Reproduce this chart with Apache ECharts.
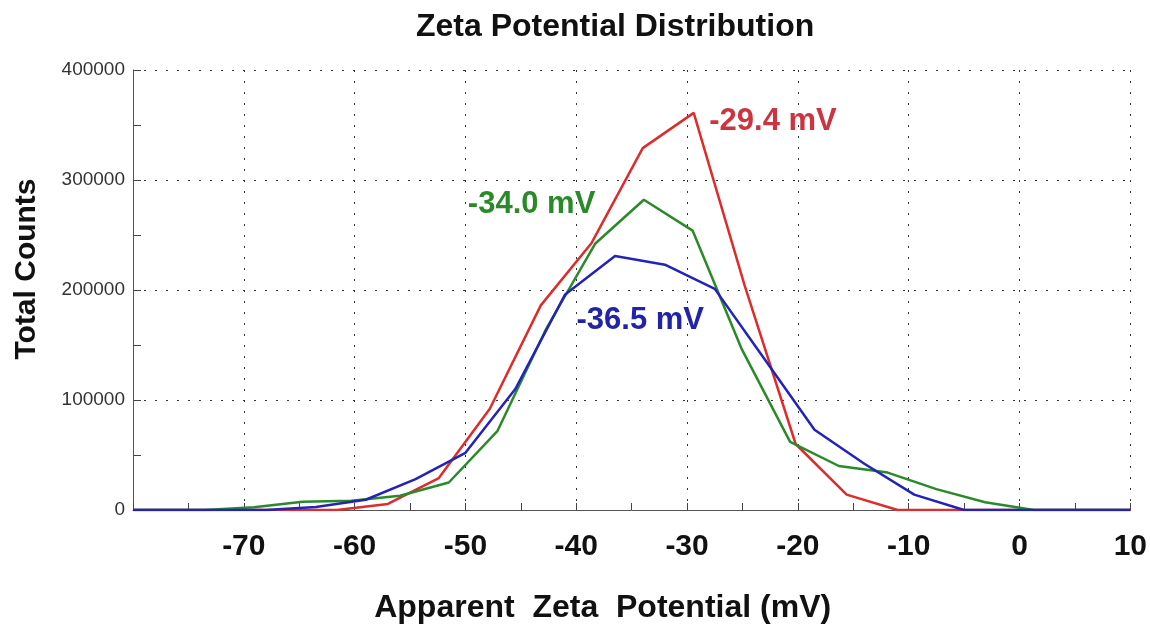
<!DOCTYPE html>
<html>
<head>
<meta charset="utf-8">
<script src="https://cdn.jsdelivr.net/npm/echarts@6/dist/echarts.min.js"></script>
<style>
html,body{margin:0;padding:0;background:#fff;}
#chart{width:1150px;height:629px;}
</style>
</head>
<body>
<div id="chart"></div>
<script>
// Data
var redX   = [-80, -61.6, -57.0, -52.4, -47.8, -43.2, -38.6, -34.0, -29.4, -24.8, -20.2, -15.6, -11.0, 10];
var redY   = [0, 0, 5500, 29000, 92000, 186000, 243000, 329000, 361000, 204000, 60000, 14000, 0, 0];
var greenX = [-80, -73.5, -69.1, -64.7, -60.3, -55.9, -51.5, -47.1, -42.7, -38.3, -33.9, -29.5, -25.1, -20.7, -16.3, -11.9, -7.5, -3.1, 1.3, 10];
var greenY = [0, 0, 2500, 7500, 8500, 13000, 25000, 72000, 165000, 242000, 282000, 254000, 147000, 62000, 40000, 34000, 19000, 7000, 0, 0];
var blueX  = [-80, -68.0, -63.5, -59.0, -54.5, -50.0, -45.5, -41.0, -36.5, -32.0, -27.5, -23.0, -18.5, -14.0, -9.5, -5.0, 10];
var blueY  = [0, 0, 2700, 9300, 28000, 52000, 110000, 196000, 231000, 223000, 201000, 137000, 73000, 42000, 14000, 0, 0];
var peakLabels = ['-29.4 mV', '-34.0 mV', '-36.5 mV'];
var xTicks = [-80, -70, -60, -50, -40, -30, -20, -10, 0, 10];
var yTicks = [0, 100000, 200000, 300000, 400000];

function pairs(xs, ys){ return xs.map(function(x,i){ return [x, ys[i]]; }); }
function peak(xs, ys){ var m = 0; for (var i=1;i<ys.length;i++){ if (ys[i]>ys[m]) m=i; } return [xs[m], ys[m]]; }

var FONT = "'Liberation Sans', Arial, Helvetica, sans-serif";
var dotted = {type:[2,9], color:'#333', width:1};

var chart = echarts.init(document.getElementById('chart'));

function mkSeries(name, xs, ys, lineColor, labelColor, label, pos, offset){
  return {
    name: name, type:'line', data: pairs(xs, ys), showSymbol:false, symbol:'none',
    lineStyle:{color:lineColor, width:2.5}, itemStyle:{color:lineColor},
    animation:false,
    markPoint:{
      symbol:'circle', symbolSize:1, itemStyle:{color:'rgba(0,0,0,0)'},
      animation:false,
      data:[{coord: peak(xs, ys), value: label}],
      label:{show:true, formatter: label, position: pos, distance:0, offset: offset,
             color: labelColor, fontSize:31, fontWeight:'bold', fontFamily: FONT}
    }
  };
}

chart.setOption({
  animation:false,
  backgroundColor:'#fff',
  title:{text:'Zeta Potential Distribution', left:411, top:6,
         textStyle:{fontSize:32, fontWeight:'bold', color:'#111', fontFamily:FONT}},
  grid:{left:133, right:17, top:70, bottom:117},
  xAxis:{
    type:'value', min:xTicks[0], max:xTicks[xTicks.length-1], interval:10,
    name:'Apparent  Zeta  Potential (mV)', nameLocation:'middle', nameGap:82,
    nameTextStyle:{fontSize:32, fontWeight:'bold', color:'#111', fontFamily:FONT, padding:[0,58,0,0]},
    axisLine:{show:true, onZero:false, lineStyle:{color:'#555', width:1}},
    axisTick:{show:true, inside:true, length:7, lineStyle:{color:'#444'}},
    minorTick:{show:true, splitNumber:2, length:7, lineStyle:{color:'#444'}},
    splitLine:{show:true, lineStyle:dotted},
    axisLabel:{fontSize:30, fontWeight:'bold', color:'#111', fontFamily:FONT, margin:22,
               formatter:function(v){ return v===xTicks[0] ? '' : String(v); }}
  },
  yAxis:{
    type:'value', min:yTicks[0], max:yTicks[yTicks.length-1], interval:100000,
    name:'Total Counts', nameLocation:'middle', nameGap:91,
    nameTextStyle:{fontSize:30, fontWeight:'bold', color:'#111', fontFamily:FONT, padding:[0,0,0,42]},
    axisLine:{show:true, onZero:false, lineStyle:{color:'#555', width:1}},
    axisTick:{show:true, inside:true, length:8, lineStyle:{color:'#444'}},
    minorTick:{show:true, splitNumber:2, length:8, lineStyle:{color:'#444'}},
    splitLine:{show:true, lineStyle:dotted},
    axisLabel:{fontSize:19, color:'#333', fontFamily:FONT, margin:8,
               formatter:function(v){ return String(v); }}
  },
  series:[
    mkSeries('red', redX, redY, '#dc2c2c', '#cc3440', peakLabels[0], 'right', [15, 9]),
    mkSeries('green', greenX, greenY, '#2a8a2a', '#2a8a2a', peakLabels[1], 'left', [-48, 5]),
    mkSeries('blue', blueX, blueY, '#2323b8', '#2323a8', peakLabels[2], 'right', [-39, 65])
  ]
});
</script>
</body>
</html>
